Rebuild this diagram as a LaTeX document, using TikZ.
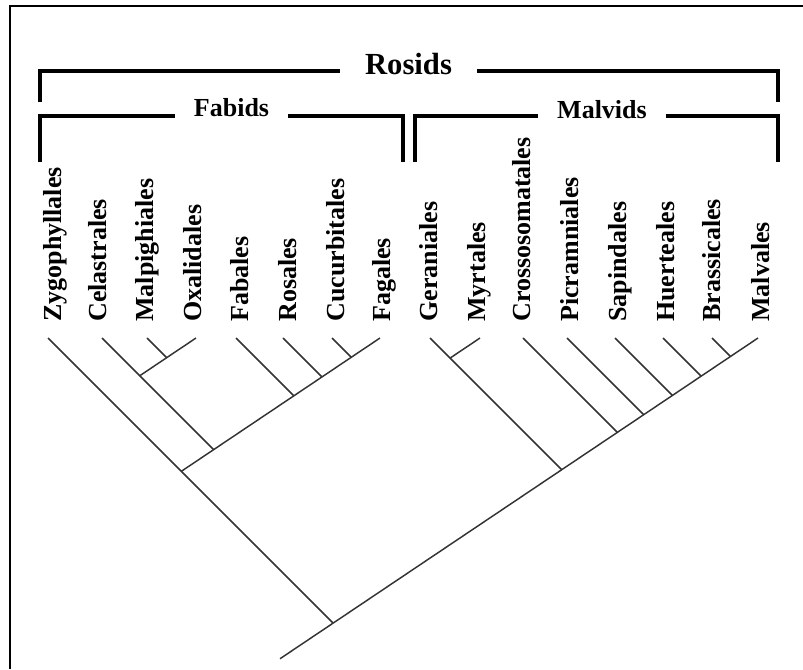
\documentclass[tikz,border=0pt]{standalone}
\usepackage{fontspec}
\setmainfont{Liberation Serif}
\begin{document}
\begin{tikzpicture}[x=0.75pt,y=-0.75pt,
  lab/.style={rotate=90,anchor=base west,inner sep=0pt,font=\fontsize{19.5}{20}\selectfont\bfseries},
  grp/.style={font=\fontsize{19.5}{20}\selectfont\bfseries,inner xsep=14pt,inner ysep=0pt,text height=0.66em,text depth=0pt},
  brk/.style={line width=3pt},
  br/.style={line width=1.1pt,draw=black!80},
  frm/.style={line width=1.5pt}]
\useasboundingbox (0,0) rectangle (803,669);
% frame
\coordinate (fBL) at (10,669);
\coordinate (fTL) at (10,6);
\coordinate (fTR) at (803,6);
\draw[frm] (fBL) -- (fTL) -- (fTR);

% group labels and brackets
\node[grp,inner xsep=18.75pt,font=\fontsize{23}{24}\selectfont\bfseries] (rosids) at (408.5,70) {Rosids};
\node[grp] (fabids) at (231.5,112) {Fabids};
\node[grp] (malvids) at (602,114.5) {Malvids};
\coordinate (rosL) at (40,102);
\coordinate (rosR) at (778,102);
\coordinate (rosY) at (0,71);
\coordinate (fabL) at (40,162);
\coordinate (fabR) at (403,162);
\coordinate (malL) at (415,162);
\coordinate (malR) at (778,162);
\coordinate (subY) at (0,116);
\draw[brk] (rosL) |- (rosids.west |- rosY);
\draw[brk] (rosids.east |- rosY) -| (rosR);
\draw[brk] (fabL) |- (fabids.west |- subY);
\draw[brk] (fabids.east |- subY) -| (fabR);
\draw[brk] (malL) |- (malvids.west |- subY);
\draw[brk] (malvids.east |- subY) -| (malR);

% taxon labels
\node[lab] (lZy) at (61,322) {Zygophyllales};
\node[lab] (lCe) at (106,322) {Celastrales};
\node[lab] (lMp) at (153,322) {Malpighiales};
\node[lab] (lOx) at (201,322) {Oxalidales};
\node[lab] (lFb) at (248,322) {Fabales};
\node[lab] (lRo) at (296,322) {Rosales};
\node[lab] (lCu) at (344,322) {Cucurbitales};
\node[lab] (lFg) at (390,322) {Fagales};
\node[lab] (lGe) at (437,322) {Geraniales};
\node[lab] (lMy) at (485,322) {Myrtales};
\node[lab] (lCr) at (530,322) {Crossosomatales};
\node[lab] (lPi) at (578,322) {Picramniales};
\node[lab] (lSa) at (626,322) {Sapindales};
\node[lab] (lHu) at (674,322) {Huerteales};
\node[lab] (lBr) at (720,322) {Brassicales};
\node[lab] (lMv) at (769,322) {Malvales};

% tips
\coordinate (tZy) at (48,338);
\coordinate (tCe) at (102,338);
\coordinate (tMp) at (147,338);
\coordinate (tOx) at (196,338);
\coordinate (tFb) at (236,338);
\coordinate (tRo) at (283,338);
\coordinate (tCu) at (332,338);
\coordinate (tFg) at (380,338);
\coordinate (tGe) at (430,338);
\coordinate (tMy) at (480,338);
\coordinate (tCr) at (523,338);
\coordinate (tPi) at (567,338);
\coordinate (tSa) at (615,338);
\coordinate (tHu) at (663,338);
\coordinate (tBr) at (712,338);
\coordinate (tMv) at (758,338);
% internal nodes
\coordinate (nMO) at (166.68,357.68);
\coordinate (nCMO) at (139.75,375.75);
\coordinate (nCuFa) at (351.28,357.28);
\coordinate (nRo) at (321.95,376.95);
\coordinate (nFa) at (293.82,395.82);
\coordinate (nCe) at (213.63,449.63);
\coordinate (nFab) at (181.32,471.32);
\coordinate (root) at (333.11,623.11);
\coordinate (stem) at (280,658.74);
\coordinate (nGM) at (450.08,358.08);
\coordinate (nBr) at (730.47,356.47);
\coordinate (nHu) at (701.15,376.15);
\coordinate (nSa) at (672.43,395.43);
\coordinate (nPi) at (643.70,414.70);
\coordinate (nCr) at (617.37,432.37);
\coordinate (nGe) at (561.71,469.71);

% branches
\draw[br] (tZy) -- (root);
\draw[br] (tCe) -- (nCe);
\draw[br] (tMp) -- (nMO);
\draw[br] (tOx) -- (nCMO);
\draw[br] (tFb) -- (nFa);
\draw[br] (tRo) -- (nRo);
\draw[br] (tCu) -- (nCuFa);
\draw[br] (tFg) -- (nFab);
\draw[br] (tGe) -- (nGe);
\draw[br] (tMy) -- (nGM);
\draw[br] (tCr) -- (nCr);
\draw[br] (tPi) -- (nPi);
\draw[br] (tSa) -- (nSa);
\draw[br] (tHu) -- (nHu);
\draw[br] (tBr) -- (nBr);
\draw[br] (tMv) -- (stem);
\end{tikzpicture}
\end{document}
